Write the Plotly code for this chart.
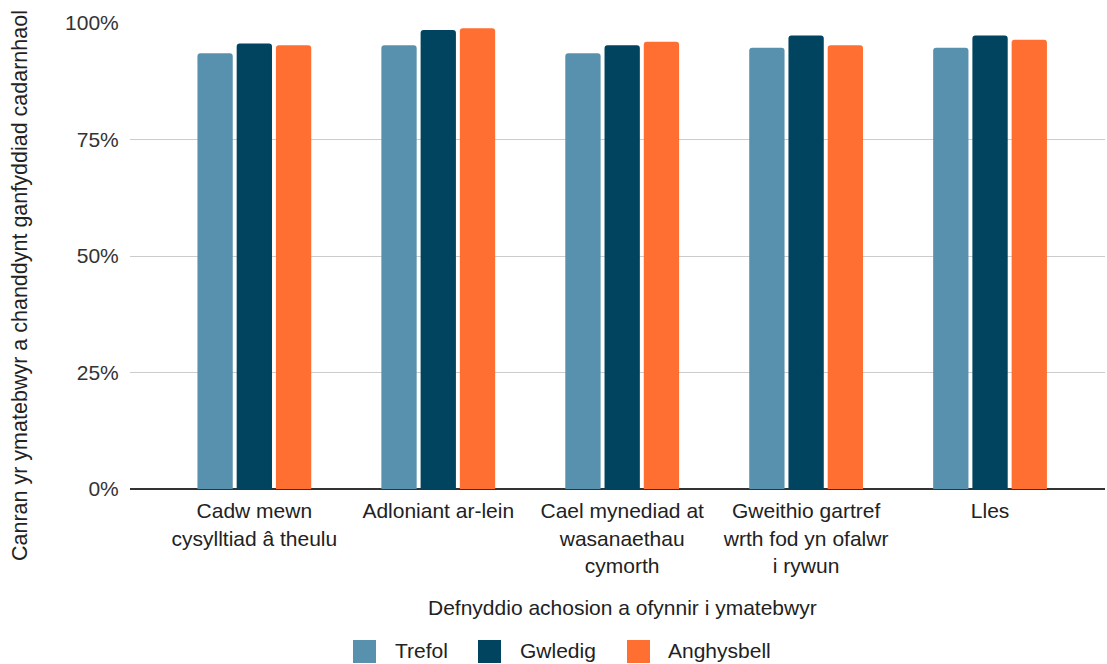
import plotly.graph_objects as go

categories = [
    "Cadw mewn<br>cysylltiad â theulu",
    "Adloniant ar-lein",
    "Cael mynediad at<br>wasanaethau<br>cymorth",
    "Gweithio gartref<br>wrth fod yn ofalwr<br>i rywun",
    "Lles",
]
series_names = ["Trefol", "Gwledig", "Anghysbell"]
trefol = [93.5, 95.2, 93.5, 94.7, 94.7]
gwledig = [95.6, 98.5, 95.2, 97.3, 97.3]
anghysbell = [95.2, 98.9, 96.0, 95.2, 96.4]
series_values = [trefol, gwledig, anghysbell]
colors = ["#5891AE", "#00445F", "#FF6F31"]
y_ticks = [0, 25, 50, 75, 100]
y_tick_labels = ["0%", "25%", "50%", "75%", "100%"]
y_title = "Canran yr ymatebwyr a chanddynt ganfyddiad cadarnhaol"
x_title = "Defnyddio achosion a ofynnir i ymatebwyr"

W, H = 1107, 664
ML, MR, MT, MB = 130, 2, 23, 175
PW, PH = W - ML - MR, H - MT - MB
FONT = "Liberation Sans, Arial, sans-serif"


def px_x(x):
    return (x - ML) / PW


def px_y(y):
    return (H - MB - y) / PH


fig = go.Figure()
for name, vals, col in zip(series_names, series_values, colors):
    fig.add_trace(go.Bar(name=name, x=categories, y=vals, marker_color=col,
                         marker_line_width=0, showlegend=False))

annotations = [
    dict(text=y_title, xref="paper", yref="paper", x=px_x(20), y=px_y(286),
         xanchor="center", yanchor="middle", textangle=-90, showarrow=False,
         font=dict(size=21.5, color="#222", family=FONT)),
    dict(text=x_title, xref="paper", yref="paper", x=px_x(622), y=px_y(607.5),
         xanchor="center", yanchor="middle", showarrow=False,
         font=dict(size=21, color="#222", family=FONT)),
]
shapes = []
legend_sq = [353, 478, 627]
legend_tx = [393, 518, 666]
for name, col, sx, tx in zip(series_names, colors, legend_sq, legend_tx):
    shapes.append(dict(type="rect", xref="paper", yref="paper",
                       x0=px_x(sx), x1=px_x(sx + 23), y0=px_y(640), y1=px_y(663),
                       fillcolor=col, line=dict(width=0), layer="above"))
    annotations.append(dict(text=name, xref="paper", yref="paper", x=px_x(tx), y=px_y(664),
                            xanchor="left", yanchor="bottom", showarrow=False,
                            font=dict(size=21, color="#222", family=FONT)))

fig.update_layout(
    width=W, height=H, autosize=False,
    margin=dict(l=ML, r=MR, t=MT, b=MB, pad=0),
    paper_bgcolor="white", plot_bgcolor="white",
    barmode="group", bargap=0.36, bargroupgap=0.10, barcornerradius=3,
    font=dict(family=FONT, size=21, color="#222"),
    annotations=annotations, shapes=shapes,
    hovermode=False,
)
fig.update_xaxes(range=[-0.676, 4.625], showgrid=False, showline=False,
                 ticks="outside", ticklen=3, tickcolor="rgba(0,0,0,0)",
                 tickfont=dict(size=21, color="#222"), fixedrange=True)
fig.update_yaxes(range=[0, 100], tickmode="array", tickvals=y_ticks, ticktext=y_tick_labels,
                 showgrid=True, gridcolor="#cccccc", gridwidth=1,
                 zeroline=True, zerolinecolor="#333333", zerolinewidth=2,
                 showline=False, ticks="outside", ticklen=6, tickcolor="rgba(0,0,0,0)",
                 tickfont=dict(size=21, color="#333"), fixedrange=True)

fig.write_html("out.html", config={"displayModeBar": False},
               post_script="document.body.style.margin='0';document.body.style.overflow='hidden';")
